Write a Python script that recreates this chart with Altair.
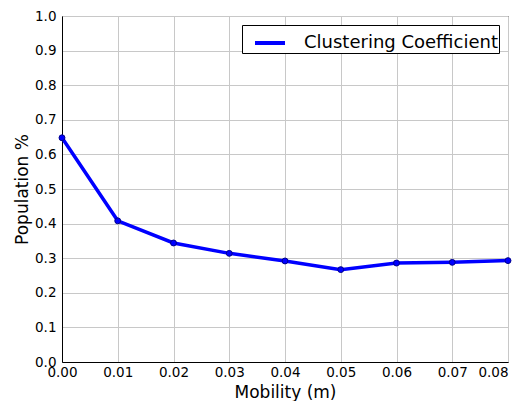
import altair as alt
import pandas as pd

mobility = [0.00, 0.01, 0.02, 0.03, 0.04, 0.05, 0.06, 0.07, 0.08]
clustering = [0.648, 0.408, 0.344, 0.314, 0.292, 0.267, 0.286, 0.288, 0.293]
series = ["Clustering Coefficient"] * len(mobility)

df = pd.DataFrame({"m": mobility, "v": clustering, "s": series})

x_ticks = [0.00, 0.01, 0.02, 0.03, 0.04, 0.05, 0.06, 0.07, 0.08]
y_ticks = [0.0, 0.1, 0.2, 0.3, 0.4, 0.5, 0.6, 0.7, 0.8, 0.9, 1.0]

W, H = 446, 346

base = alt.Chart(df)

line = base.mark_line(
    strokeWidth=3.5,
    point=alt.OverlayMarkDef(filled=True, size=35, color="#0000ee", stroke="#00008b", strokeWidth=1),
).encode(
    x=alt.X("m:Q", scale=alt.Scale(domain=[0, 0.08], nice=False, zero=False),
            axis=alt.Axis(values=x_ticks, format=".2f", title="Mobility (m)",
                          labelAlign={"expr": "datum.value >= 0.0799 ? 'right' : 'center'"})),
    y=alt.Y("v:Q", scale=alt.Scale(domain=[0, 1.0], nice=False),
            axis=alt.Axis(values=y_ticks, format=".1f", title="Population %")),
    color=alt.Color("s:N", scale=alt.Scale(range=["#0000ff"]),
                    legend=alt.Legend(title=None, orient="top-right", offset=9,
                                      symbolType="stroke", symbolSize=900,
                                      symbolStrokeWidth=4, labelFontSize=18,
                                      labelFont="DejaVu Sans", labelColor="#000000",
                                      labelLimit=0, labelExpr="datum.label + ' '",
                                      strokeColor="#000000", fillColor="#ffffff",
                                      padding=1, symbolOffset=10, labelOffset=17,
                                      cornerRadius=0)),
)

chart = line.properties(width=W, height=H).configure(
    autosize=alt.AutoSizeParams(type="none"),
    padding={"left": 54, "top": 8, "right": 7, "bottom": 40},
    font="DejaVu Sans",
).configure_axis(
    grid=True, gridColor="#c8c8c8", gridWidth=1,
    domainColor="#000000", domainWidth=1,
    tickColor="#000000", tickSize=0,
    labelFont="DejaVu Sans", labelFontSize=13.5, labelColor="#000000",
    labelFlush=False, labelOverlap=False, labelBound=False,
    titleFont="DejaVu Sans", titleFontSize=17, titleFontWeight="normal", titleColor="#000000",
).configure_axisX(
    labelPadding=3, titlePadding=6,
).configure_axisY(
    labelPadding=6, titlePadding=3,
).configure_view(
    stroke="#000000", strokeWidth=1,
)

chart.save("out.html", embed_options={"renderer": "svg", "actions": False})
